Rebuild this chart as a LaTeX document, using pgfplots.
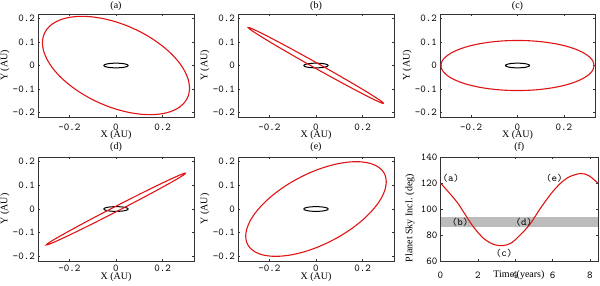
\documentclass[border=0pt]{standalone}
\usepackage{fontspec}
\setmainfont{Liberation Serif}
\usepackage{pgfplots}
\usepackage{pgfplotstable}
\pgfplotsset{compat=1.18}
\definecolor{orbred}{RGB}{225,20,20}
\definecolor{band}{RGB}{188,188,188}

\pgfplotstableread{
x y
0.052 0
0.0512 0.0017
0.0489 0.0034
0.045 0.005
0.0398 0.0064
0.0334 0.0077
0.026 0.0087
0.0178 0.0094
0.009 0.0098
0 0.01
-0.009 0.0098
-0.0178 0.0094
-0.026 0.0087
-0.0334 0.0077
-0.0398 0.0064
-0.045 0.005
-0.0489 0.0034
-0.0512 0.0017
-0.052 0
-0.0512 -0.0017
-0.0489 -0.0034
-0.045 -0.005
-0.0398 -0.0064
-0.0334 -0.0077
-0.026 -0.0087
-0.0178 -0.0094
-0.009 -0.0098
0 -0.01
0.009 -0.0098
0.0178 -0.0094
0.026 -0.0087
0.0334 -0.0077
0.0398 -0.0064
0.045 -0.005
0.0489 -0.0034
0.0512 -0.0017
0.052 0
}\inner

\pgfplotstableread{
x y
0.316 -0.097
0.3112 -0.0632
0.2969 -0.0275
0.2737 0.0092
0.2421 0.0455
0.2031 0.0803
0.158 0.1128
0.1081 0.1419
0.0549 0.1667
0 0.1863
-0.0549 0.2003
-0.1081 0.2083
-0.158 0.2098
-0.2031 0.2051
-0.2421 0.1941
-0.2737 0.1772
-0.2969 0.1549
-0.3112 0.1278
-0.316 0.097
-0.3112 0.0632
-0.2969 0.0275
-0.2737 -0.0092
-0.2421 -0.0455
-0.2031 -0.0803
-0.158 -0.1128
-0.1081 -0.1419
-0.0549 -0.1667
0 -0.1863
0.0549 -0.2003
0.1081 -0.2083
0.158 -0.2098
0.2031 -0.2051
0.2421 -0.1941
0.2737 -0.1772
0.2969 -0.1549
0.3112 -0.1278
0.316 -0.097
}\orbA

\pgfplotstableread{
x y
0.291 -0.162
0.2866 -0.1572
0.2735 -0.1478
0.2520 -0.1338
0.2229 -0.1157
0.1871 -0.0941
0.1455 -0.0697
0.0995 -0.0432
0.0505 -0.0153
0 0.013
-0.0505 0.0409
-0.0995 0.0676
-0.1455 0.0923
-0.1871 0.1141
-0.2229 0.1325
-0.2520 0.1468
-0.2735 0.1566
-0.2866 0.1618
-0.291 0.162
-0.2866 0.1572
-0.2735 0.1478
-0.2520 0.1338
-0.2229 0.1157
-0.1871 0.0941
-0.1455 0.0697
-0.0995 0.0432
-0.0505 0.0153
0 -0.013
0.0505 -0.0409
0.0995 -0.0676
0.1455 -0.0923
0.1871 -0.1141
0.2229 -0.1325
0.2520 -0.1468
0.2735 -0.1566
0.2866 -0.1618
0.291 -0.162
}\orbB

\pgfplotstableread{
x y
0.331 0
0.326 0.0186
0.311 0.0366
0.2866 0.0535
0.2535 0.0688
0.2128 0.082
0.1655 0.0927
0.1132 0.1005
0.0575 0.1054
0 0.107
-0.0575 0.1054
-0.1132 0.1005
-0.1655 0.0927
-0.2128 0.082
-0.2535 0.0688
-0.2866 0.0535
-0.311 0.0366
-0.326 0.0186
-0.331 0
-0.326 -0.0186
-0.311 -0.0366
-0.2866 -0.0535
-0.2535 -0.0688
-0.2128 -0.082
-0.1655 -0.0927
-0.1132 -0.1005
-0.0575 -0.1054
0 -0.107
0.0575 -0.1054
0.1132 -0.1005
0.1655 -0.0927
0.2128 -0.082
0.2535 -0.0688
0.2866 -0.0535
0.311 -0.0366
0.326 -0.0186
0.331 0
}\orbC

\pgfplotstableread{
x y
0.3 0.152
0.2954 0.1518
0.2819 0.1469
0.2598 0.1376
0.2298 0.1241
0.1928 0.1069
0.15 0.0864
0.1026 0.0633
0.0521 0.0382
0 0.012
-0.0521 -0.0146
-0.1026 -0.0407
-0.15 -0.0656
-0.1928 -0.0885
-0.2298 -0.1087
-0.2598 -0.1256
-0.2819 -0.1387
-0.2954 -0.1476
-0.3 -0.152
-0.2954 -0.1518
-0.2819 -0.1469
-0.2598 -0.1376
-0.2298 -0.1241
-0.1928 -0.1069
-0.15 -0.0864
-0.1026 -0.0633
-0.0521 -0.0382
0 -0.012
0.0521 0.0146
0.1026 0.0407
0.15 0.0656
0.1928 0.0885
0.2298 0.1087
0.2598 0.1256
0.2819 0.1387
0.2954 0.1476
0.3 0.152
}\orbD

\pgfplotstableread{
x y
0.302 0.115
0.2974 0.1418
0.2838 0.1642
0.2615 0.1816
0.2313 0.1935
0.1941 0.1995
0.151 0.1995
0.1033 0.1934
0.0524 0.1815
0 0.164
-0.0524 0.1415
-0.1033 0.1148
-0.151 0.0845
-0.1941 0.0517
-0.2313 0.0173
-0.2615 -0.0176
-0.2838 -0.052
-0.2974 -0.0848
-0.302 -0.115
-0.2974 -0.1418
-0.2838 -0.1642
-0.2615 -0.1816
-0.2313 -0.1935
-0.1941 -0.1995
-0.151 -0.1995
-0.1033 -0.1934
-0.0524 -0.1815
0 -0.164
0.0524 -0.1415
0.1033 -0.1148
0.151 -0.0845
0.1941 -0.0517
0.2313 -0.0173
0.2615 0.0176
0.2838 0.052
0.2974 0.0848
0.302 0.115
}\orbE

\pgfplotstableread{
t inc
0 120
0.4 113.5
0.9 105
1.4 94
1.8 85.5
2.3 77.5
2.8 73
3.3 71.8
3.8 74
4.3 80.5
4.8 88.5
5.3 99.5
5.9 111.5
6.4 119.5
6.9 124.8
7.5 127.3
7.95 125.6
8.45 119.5
}\incl

\pgfplotsset{
  base/.style={
    scale only axis,
    axis line style={line width=0.6pt, black!80},
    tick style={black!80, line width=0.5pt},
    tick align=inside,
    major tick length=2.2pt,
    tick label style={font=\fontsize{10.5}{12}\ttfamily},
    /pgf/number format/assume math mode=true,
    label style={font=\fontsize{11}{13}\ttfamily},
    title style={font=\fontsize{10}{12}\selectfont, anchor=center},
    yticklabel style={anchor=east, inner sep=0pt, xshift=-3pt},
    xticklabel style={anchor=center, inner sep=0pt},
  },
  orb/.style={
    base,
    width=156pt,
    xmin=-0.335, xmax=0.335, ymin=-0.22, ymax=0.22,
    xtick={-0.2,0,0.2}, ytick={-0.2,-0.1,0,0.1,0.2},
    xlabel={X (AU)}, ylabel={Y (AU)},
    every axis y label/.style={at={(axis description cs:-0.212,0.5)}, rotate=90, anchor=center},
  },
  toprow/.style={
    height=103pt,
    xticklabel style={yshift=-10pt},
    every axis x label/.style={at={(axis description cs:0.5,-0.175)}, anchor=center},
    every axis title/.style={at={(axis description cs:0.5,1)}, yshift=8pt, anchor=center},
  },
  botrow/.style={
    height=104pt,
    xticklabel style={yshift=-7.5pt},
    every axis x label/.style={at={(axis description cs:0.5,-0.151)}, anchor=center},
    every axis title/.style={at={(axis description cs:0.5,1)}, yshift=9.5pt, anchor=center},
  },
  redorb/.style={color=orbred, line width=1.1pt, smooth, no markers},
  blkorb/.style={color=black, line width=1.0pt, smooth, no markers},
}

\begin{document}
\begin{tikzpicture}
\begin{axis}[orb, toprow, at={(38pt,168pt)}, anchor=south west, title={(a)}]
\addplot[blkorb] table[x=x,y=y]{\inner};
\addplot[redorb] table[x=x,y=y]{\orbA};
\end{axis}
\begin{axis}[orb, toprow, at={(238pt,168pt)}, anchor=south west, title={(b)}]
\addplot[blkorb] table[x=x,y=y]{\inner};
\addplot[redorb] table[x=x,y=y]{\orbB};
\end{axis}
\begin{axis}[orb, toprow, at={(440pt,168pt)}, anchor=south west, width=155pt, title={(c)}]
\addplot[blkorb] table[x=x,y=y]{\inner};
\addplot[redorb] table[x=x,y=y]{\orbC};
\end{axis}
\begin{axis}[orb, botrow, at={(38pt,24pt)}, anchor=south west, title={(d)}]
\addplot[blkorb] table[x=x,y=y]{\inner};
\addplot[redorb] table[x=x,y=y]{\orbD};
\end{axis}
\begin{axis}[orb, botrow, at={(238pt,24pt)}, anchor=south west, title={(e)}]
\addplot[blkorb] table[x=x,y=y]{\inner};
\addplot[redorb] table[x=x,y=y]{\orbE};
\end{axis}
\begin{axis}[base, botrow, at={(440.5pt,24pt)}, anchor=south west,
  width=157.5pt, title={(f)},
  xmin=0, xmax=8.43, ymin=60, ymax=140,
  xtick={0,2,4,6,8}, ytick={60,80,100,120,140},
  xlabel={Time (years)}, ylabel={Planet Sky Incl. (deg)},
  xticklabel style={yshift=-7pt},
  every axis x label/.style={at={(axis description cs:0.498,-0.135)}, anchor=center},
  every axis y label/.style={at={(axis description cs:-0.194,0.413)}, rotate=90, anchor=center},
  clip=true]
\addplot[fill=band, draw=none] coordinates {(0,86) (8.43,86) (8.43,93.7) (0,93.7)} -- cycle;
\addplot[color=orbred, line width=1.1pt, smooth, no markers] table[x=t,y=inc]{\incl};
\node[font=\fontsize{10.5}{12}\ttfamily] at (axis cs:0.55,123.5) {(a)};
\node[font=\fontsize{10.5}{12}\ttfamily] at (axis cs:1.05,90) {(b)};
\node[font=\fontsize{10.5}{12}\ttfamily] at (axis cs:3.4,65.7) {(c)};
\node[font=\fontsize{10.5}{12}\ttfamily] at (axis cs:4.46,90) {(d)};
\node[font=\fontsize{10.5}{12}\ttfamily] at (axis cs:6.1,123.4) {(e)};
\end{axis}
\pgfresetboundingbox
\path (0,0) rectangle (600pt,285pt);
\end{tikzpicture}
\end{document}
